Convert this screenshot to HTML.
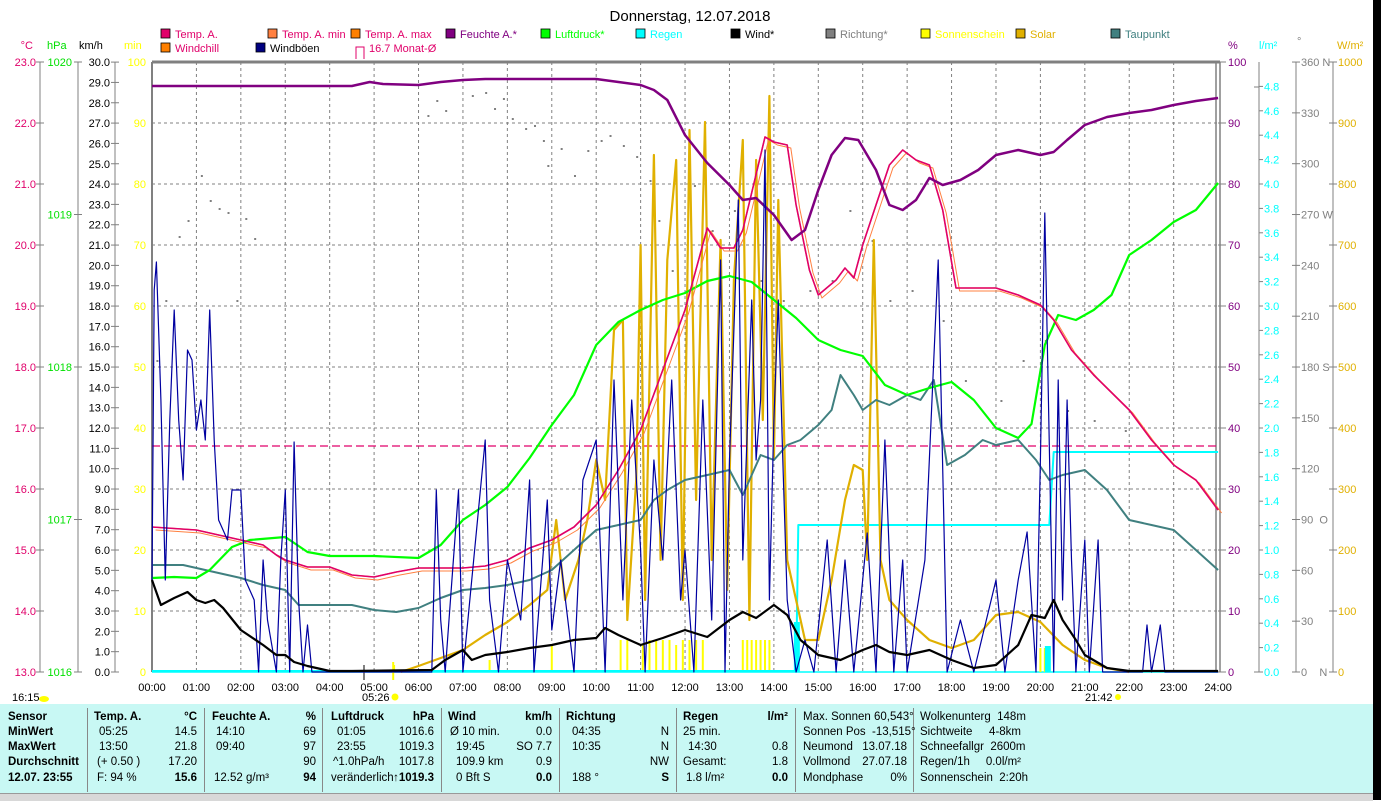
<!DOCTYPE html>
<html><head><meta charset="utf-8">
<style>
body{margin:0;width:1381px;height:800px;overflow:hidden;background:#fff;font-family:"Liberation Sans",sans-serif;}
svg text{font-family:"Liberation Sans",sans-serif;font-size:11px;}
#tbl{position:absolute;left:0;top:704px;width:1373px;height:89px;background:#c8f8f4;}
#tbl div{position:absolute;font-size:11.5px;color:#000;white-space:nowrap;}
.b{font-weight:bold}
.sep{position:absolute;top:4px;height:84px;width:1px;background:#888}
#blk{position:absolute;left:1373px;top:0;width:8px;height:800px;background:#000}
#bot{position:absolute;left:0;top:793px;width:1373px;height:7px;background:#d8d8d8;border-top:1px solid #999}
</style></head><body>
<svg id="s" width="1381" height="704" style="position:absolute;left:0;top:0"></svg>
<div id="tbl"></div>
<div id="bot"></div>
<div id="blk"></div>
<script>
var s=document.getElementById('s'),h='';
var X=function(t){return 152+t*44.42},B=672,T=62;
function txt(x,y,t,c,a,extra){h+='<text x="'+x+'" y="'+y+'" fill="'+c+'" text-anchor="'+(a||'start')+'" '+(extra||'')+'>'+t+'</text>';}
function ln(x1,y1,x2,y2,c,w,d){h+='<line x1="'+x1+'" y1="'+y1+'" x2="'+x2+'" y2="'+y2+'" stroke="'+c+'" stroke-width="'+(w||1)+'"'+(d?' stroke-dasharray="'+d+'"':'')+'/>';}
function pl(pts,c,w,ymap){var p=pts.map(function(q){return X(q[0]).toFixed(1)+','+(ymap?ymap(q[1]):q[1]).toFixed(1)}).join(' ');h+='<polyline points="'+p+'" fill="none" stroke="'+c+'" stroke-width="'+w+'" stroke-linejoin="round"/>';}
txt(690,21,'Donnerstag, 12.07.2018','#000','middle','style="font-size:15px"');
// legend
var L=[[161,38,'#e0006a','Temp. A.','#e0006a'],[268,38,'#ff8040','Temp. A. min','#e0006a'],[351,38,'#ff8000','Temp. A. max','#e0006a'],[446,38,'#800080','Feuchte A.*','#800080'],[541,38,'#00ff00','Luftdruck*','#00ff00'],[636,38,'#00ffff','Regen','#00ffff'],[731,38,'#000','Wind*','#000'],[826,38,'#808080','Richtung*','#808080'],[921,38,'#ffff00','Sonnenschein','#ffff00'],[1016,38,'#e0b000','Solar','#e0b000'],[1111,38,'#408080','Taupunkt','#408080'],[161,52,'#ff8000','Windchill','#e0006a'],[256,52,'#000080','Windböen','#000']];
L.forEach(function(l){h+='<rect x="'+l[0]+'" y="'+(l[1]-9)+'" width="9" height="9" fill="'+l[2]+'" stroke="#000" stroke-width="0.8"/>';txt(l[0]+14,l[1],l[3],l[4]);});
h+='<path d="M356 59 V47 H364 V59" fill="none" stroke="#e0006a"/>';txt(369,52,'16.7 Monat-Ø','#e0006a');
// unit headers
txt(33,49,'°C','#e0006a','end');txt(47,49,'hPa','#00e000');txt(79,49,'km/h','#000');txt(124,49,'min','#ffff00');
txt(1228,49,'%','#800080');txt(1259,49,'l/m²','#00ffff');txt(1297,45,'°','#808080');txt(1337,49,'W/m²','#e0b000');
// grid
for(var i=1;i<24;i++)ln(X(i),T,X(i),B,'#808080',1,'3,3');
for(var i=1;i<10;i++){var y=B-i*61;ln(152,y,1218,y,'#808080',1,'3,3');}
// frame
ln(152,T,1220,T,'#808080',3);ln(152,T,152,B,'#808080',2);ln(1216,T,1216,B,'#808080',1.5);ln(1220,T,1220,B,'#808080',1.5);
ln(152,B,1218,B,'#00ffff',1.5);
// left axes
ln(40,T,40,B,'#808080');ln(78,T,78,B,'#808080');ln(115,T,115,B,'#808080');
for(var i=0;i<=10;i++){var y=B-i*61;txt(36,y+4,(13+i).toFixed(1),'#e0006a','end');ln(36,y,44,y,'#808080');}
for(var i=0;i<=4;i++){var y=B-i*152.5;txt(72,y+4,1016+i,'#00e000','end');ln(74,y,82,y,'#808080');}
for(var i=0;i<=30;i++){var y=B-i*20.33;txt(110,y+4,i.toFixed(1),'#000','end');ln(111,y,119,y,'#808080');}
for(var i=0;i<=10;i++){var y=B-i*61;txt(146,y+4,i*10,'#ffff00','end');}
// right axes
for(var i=0;i<=10;i++){var y=B-i*61;ln(1218,y,1226,y,'#808080');txt(1228,y+4,i*10,'#800080');}
ln(1259,T,1259,B,'#808080');for(var i=0;i<=24;i++){var y=B-i*24.4;ln(1259,y,1263,y,'#808080');txt(1264,y+4,(i*0.2).toFixed(1),'#00ffff');}
ln(1254,87,1259,87,'#808080');ln(1254,B,1259,B,'#808080');
var dirs={0:'0 &#160;&#160;&#160;N',3:'90 &#160;O',6:'180 S',9:'270 W',12:'360 N'};
ln(1296,T,1296,B,'#808080');for(var i=0;i<=12;i++){var y=B-i*50.83;ln(1292,y,1300,y,'#808080');txt(1301,y+4,dirs[i]||(i*30),'#808080');}
ln(1333,T,1333,B,'#808080');for(var i=0;i<=10;i++){var y=B-i*61;ln(1329,y,1337,y,'#808080');txt(1338,y+4,i*100,'#e0b000');}
// time labels
for(var i=0;i<=24;i++)txt(X(i),691,(i<10?'0':'')+i+':00','#000','middle');
txt(12,701,'16:15','#000');h+='<ellipse cx="44" cy="699" rx="5" ry="3" fill="#ffff00"/>';
txt(362,701,'05:26','#000');h+='<circle cx="395" cy="697" r="3.5" fill="#ffff00"/>';
txt(1085,701,'21:42','#000');h+='<circle cx="1118" cy="697" r="3" fill="#ffff00"/>';
ln(X(5.43),662,X(5.43),680,'#ffff00',2);ln(364,665,364,680,'#808080',2);
// Richtung dots
var dots=[[0.1,360],[0.3,300],[0.6,236],[0.8,220],[1.1,175],[1.3,200],[1.5,208],[1.7,212],[2.1,218],[2.3,238],[1.9,300],[6.2,115],[6.4,100],[6.6,110],[7.2,95],[7.5,92],[7.7,108],[7.9,98],[8.1,118],[8.4,128],[8.6,125],[8.9,165],[8.8,140],[9.2,148],[9.5,175],[9.8,150],[10.1,140],[10.3,135],[10.6,145],[10.9,156],[11.2,180],[11.4,220],[11.7,270],[12.2,185],[12.6,230],[13.1,210],[13.7,280],[14.2,300],[14.8,290],[15.3,280],[15.7,210],[16.2,240],[16.6,300],[17.1,290],[17.8,320],[18.3,380],[19.1,400],[19.6,360],[20.1,340],[20.6,410],[21.2,420],[21.9,430]];
dots.forEach(function(d){h+='<rect x="'+X(d[0])+'" y="'+d[1]+'" width="2" height="2" fill="#808080"/>';});
// sunshine bars
[[9,645],[10.55,640],[10.7,640],[11.05,645],[11.2,640],[11.35,640],[11.5,640],[11.65,640],[11.8,645],[11.95,640],[12.1,640],[12.25,640],[12.4,640],[13.3,640],[13.4,640],[13.5,640],[13.6,640],[13.7,640],[13.8,640],[13.9,640],[20.0,648],[20.1,648],[5.45,665],[7.6,660]].forEach(function(b){ln(X(b[0]),b[1],X(b[0]),B,'#ffff00',2);});
// rain
pl([[0,671],[14.5,671],[14.55,525],[20.2,525],[20.3,452],[24,452]],'#00ffff',2);
h+='<rect x="'+X(14.45)+'" y="622" width="6" height="50" fill="#00ffff"/><rect x="'+X(20.1)+'" y="646" width="6" height="26" fill="#00ffff"/>';
// Monat dashed
ln(152,446,1218,446,'#e0006a',1.2,'8,4');
// solar
pl([[5.6,672],[6,666],[7,650],[7.5,635],[8,622],[8.5,605],[8.9,590],[9.1,520],[9.3,600],[9.6,560],[9.8,520],[10,460],[10.2,500],[10.4,330],[10.6,320],[10.7,620],[10.9,480],[11,245],[11.1,600],[11.3,155],[11.45,560],[11.6,260],[11.8,160],[11.95,600],[12.1,130],[12.25,500],[12.45,122],[12.6,560],[12.8,240],[12.95,590],[13.1,280],[13.3,140],[13.45,620],[13.6,160],[13.75,420],[13.9,96],[14.0,460],[14.1,200],[14.3,560],[14.5,600],[14.7,640],[15,640],[15.3,580],[15.6,500],[15.8,465],[16,470],[16.1,560],[16.25,240],[16.4,560],[16.6,600],[17,620],[17.5,640],[18,648],[18.5,640],[19,615],[19.5,612],[20,622],[20.5,645],[21,660],[21.5,668],[22,672]],'#e0b000',2.2);
// taupunkt
pl([[0,565],[0.7,565],[1,568],[2,578],[2.5,585],[3,590],[3.3,605],[4.5,605],[5,610],[5.5,612],[6,608],[6.5,598],[7,590],[7.5,588],[8,585],[8.5,580],[9,570],[9.5,550],[10,530],[10.5,525],[11,520],[11.3,500],[11.6,490],[12,480],[12.5,475],[13,470],[13.3,495],[13.7,455],[14,460],[14.3,445],[14.6,440],[15,425],[15.3,410],[15.5,375],[15.8,395],[16,410],[16.3,400],[16.6,405],[17,395],[17.3,400],[17.6,380],[17.9,465],[18.3,455],[18.7,440],[19,445],[19.5,440],[19.9,460],[20.2,480],[20.5,475],[21,470],[21.5,490],[22,520],[22.5,525],[23,530],[23.5,550],[24,570]],'#408080',2);
// pressure
pl([[0,578],[0.5,577],[1,578],[1.3,570],[1.8,547],[2.2,540],[3,537],[3.5,552],[4,556],[5,556],[6,558],[6.5,545],[7,520],[7.5,505],[8,487],[8.5,458],[9,425],[9.5,395],[10,345],[10.5,322],[11,310],[11.5,300],[12,293],[12.5,281],[13,276],[13.5,282],[14,300],[14.5,318],[15,340],[15.5,350],[16,356],[16.5,385],[17,395],[17.5,388],[18,382],[18.5,400],[19,428],[19.5,438],[19.8,424],[20.1,345],[20.4,315],[20.8,320],[21.2,310],[21.6,295],[22,255],[22.5,240],[23,222],[23.5,210],[24,183]],'#00ff00',2.2);
// temperature / windchill
var tp=[[0,527],[1,530],[1.5,535],[2,540],[2.5,545],[2.8,555],[3,560],[3.5,567],[4,567],[4.5,575],[5,577],[5.5,572],[6,568],[7,568],[7.5,566],[8,560],[8.5,548],[9,540],[9.5,527],[10,505],[10.5,470],[11,430],[11.5,370],[12,310],[12.5,228],[12.8,248],[13.1,248],[13.3,230],[13.8,137],[14.0,142],[14.3,145],[14.5,205],[14.8,270],[15,295],[15.4,280],[15.6,268],[15.8,278],[16,245],[16.3,205],[16.6,165],[16.9,150],[17.2,160],[17.5,165],[17.8,210],[18.1,288],[19,288],[19.5,295],[20,305],[20.3,320],[20.7,350],[21.2,375],[22,410],[22.5,440],[23,465],[23.5,480],[24,510]];
pl(tp.map(function(q){return [q[0]+0.08,q[1]+3]}),'#ff8040',1);
pl(tp,'#ff8000',1.3);
pl(tp,'#e0006a',1.6);
// humidity
var hu=[[0,86],[4.5,86],[4.9,82],[5.2,84],[6,85],[6.5,82],[7,80],[7.5,79],[10,79],[10.5,82],[11,85],[11.3,90],[11.6,100],[12,135],[12.5,163],[13,185],[13.3,200],[13.6,198],[14,215],[14.4,240],[14.7,230],[15,190],[15.3,155],[15.6,138],[15.9,140],[16.3,170],[16.6,205],[16.9,210],[17.2,200],[17.5,178],[17.8,185],[18.2,180],[18.6,170],[19,155],[19.5,150],[20,155],[20.3,152],[20.6,140],[21,125],[21.5,117],[22,113],[22.5,110],[23,105],[23.5,101],[24,98]];
pl(hu,'#800080',2.5);
// gusts
var g=[[0,580],[0.05,290],[0.1,262],[0.2,400],[0.3,580],[0.4,420],[0.5,310],[0.6,420],[0.7,480],[0.8,350],[0.9,360],[1,430],[1.1,400],[1.2,440],[1.3,310],[1.4,440],[1.5,520],[1.7,540],[1.8,490],[2,490],[2.1,580],[2.3,600],[2.4,672],[2.5,560],[2.6,620],[2.8,672],[2.9,560],[3,490],[3.1,672],[3.2,442],[3.3,600],[3.4,672],[3.5,625],[3.6,672],[6.3,672],[6.4,490],[6.5,620],[6.6,672],[6.9,490],[7.0,672],[7.5,440],[7.6,600],[7.8,672],[8,560],[8.3,620],[8.5,480],[8.6,672],[8.9,500],[9,630],[9.2,560],[9.5,672],[9.7,480],[10,440],[10.2,672],[10.4,380],[10.6,600],[10.8,400],[11,550],[11.1,672],[11.3,460],[11.5,560],[11.7,380],[11.9,600],[12,550],[12.2,672],[12.4,400],[12.6,620],[12.8,260],[12.9,672],[13,460],[13.2,200],[13.3,560],[13.5,300],[13.6,460],[13.7,400],[13.8,150],[13.9,600],[14,420],[14.1,300],[14.2,460],[14.3,600],[14.5,672],[14.7,640],[14.9,672],[15.2,540],[15.4,672],[15.6,560],[15.8,672],[16.1,533],[16.3,672],[16.5,440],[16.7,672],[16.9,560],[17.0,672],[17.4,560],[17.7,260],[17.9,672],[18.2,620],[18.5,672],[19,580],[19.2,672],[19.5,580],[19.7,532],[19.9,672],[20,460],[20.1,213],[20.3,672],[20.4,380],[20.5,600],[20.6,400],[20.7,560],[20.8,672],[21,540],[21.1,672],[21.3,540],[21.4,672],[22.3,672],[22.4,625],[22.5,672],[22.7,625],[22.8,672],[24,672]];
pl(g,'#0000a0',1.2);
// wind
pl([[0,580],[0.2,605],[0.5,598],[0.8,592],[1,600],[1.2,603],[1.4,600],[1.6,608],[2,630],[2.5,645],[2.8,655],[3,655],[3.2,662],[3.5,666],[4,671],[4.5,671],[6.3,670],[6.6,660],[7,650],[7.2,660],[7.5,655],[8,652],[8.5,648],[9,645],[9.5,640],[10,638],[10.2,628],[10.5,635],[11,645],[11.5,638],[12,630],[12.5,637],[13,620],[13.3,612],[13.6,618],[14,605],[14.3,615],[14.6,640],[15,655],[15.5,660],[16,650],[16.3,645],[16.6,652],[17,655],[17.5,650],[18,660],[18.5,668],[19,665],[19.5,645],[19.8,615],[20.1,618],[20.3,600],[20.5,620],[20.8,640],[21,655],[21.5,668],[22,671],[24,671]],'#000',2.2);
s.innerHTML=h;
// table
var t=document.getElementById('tbl'),o='';
function c(x,y,v,cls,al){o+='<div class="'+(cls||'')+'" style="'+(al?'right:'+(1373-x)+'px':'left:'+x+'px')+';top:'+y+'px">'+v+'</div>';}
[87,204,322,441,559,676,795,913].forEach(function(x){o+='<div class="sep" style="left:'+x+'px"></div>';});
var r=[7,22,37,52,68];
c(8,r[0],'Sensor','b');c(8,r[1],'MinWert','b');c(8,r[2],'MaxWert','b');c(8,r[3],'Durchschnitt','b');c(8,r[4],'12.07. 23:55','b');
c(94,r[0],'Temp. A.','b');c(197,r[0],'°C','b',1);c(99,r[1],'05:25');c(197,r[1],'14.5','',1);c(99,r[2],'13:50');c(197,r[2],'21.8','',1);c(97,r[3],'(+ 0.50 )');c(197,r[3],'17.20','',1);c(97,r[4],'F: 94 %');c(197,r[4],'15.6','b',1);
c(212,r[0],'Feuchte A.','b');c(316,r[0],'%','b',1);c(216,r[1],'14:10');c(316,r[1],'69','',1);c(216,r[2],'09:40');c(316,r[2],'97','',1);c(316,r[3],'90','',1);c(214,r[4],'12.52 g/m³');c(316,r[4],'94','b',1);
c(331,r[0],'Luftdruck','b');c(434,r[0],'hPa','b',1);c(337,r[1],'01:05');c(434,r[1],'1016.6','',1);c(337,r[2],'23:55');c(434,r[2],'1019.3','',1);c(333,r[3],'^1.0hPa/h');c(434,r[3],'1017.8','',1);c(331,r[4],'veränderlich');c(434,r[4],'↑1019.3','b',1);
c(448,r[0],'Wind','b');c(552,r[0],'km/h','b',1);c(450,r[1],'Ø 10 min.');c(552,r[1],'0.0','',1);c(456,r[2],'19:45');c(552,r[2],'SO 7.7','',1);c(456,r[3],'109.9 km');c(552,r[3],'0.9','',1);c(456,r[4],'0 Bft S');c(552,r[4],'0.0','b',1);
c(566,r[0],'Richtung','b');c(669,r[1],'N','',1);c(572,r[1],'04:35');c(572,r[2],'10:35');c(669,r[2],'N','',1);c(669,r[3],'NW','',1);c(572,r[4],'188 °');c(669,r[4],'S','b',1);
c(683,r[0],'Regen','b');c(788,r[0],'l/m²','b',1);c(683,r[1],'25 min.');c(688,r[2],'14:30');c(788,r[2],'0.8','',1);c(683,r[3],'Gesamt:');c(788,r[3],'1.8','',1);c(686,r[4],'1.8 l/m²');c(788,r[4],'0.0','b',1);
c(803,r[0],'Max. Sonnen 60,543°');c(803,r[1],'Sonnen Pos &#160;-13,515°');c(803,r[2],'Neumond');c(907,r[2],'13.07.18','',1);c(803,r[3],'Vollmond');c(907,r[3],'27.07.18','',1);c(803,r[4],'Mondphase');c(907,r[4],'0%','',1);
c(920,r[0],'Wolkenunterg &#160;148m');c(920,r[1],'Sichtweite');c(1021,r[1],'4-8km','',1);c(920,r[2],'Schneefallgr &#160;2600m');c(920,r[3],'Regen/1h');c(1021,r[3],'0.0l/m²','',1);c(920,r[4],'Sonnenschein &#160;2:20h');
t.innerHTML=o;
</script>
</body></html>
